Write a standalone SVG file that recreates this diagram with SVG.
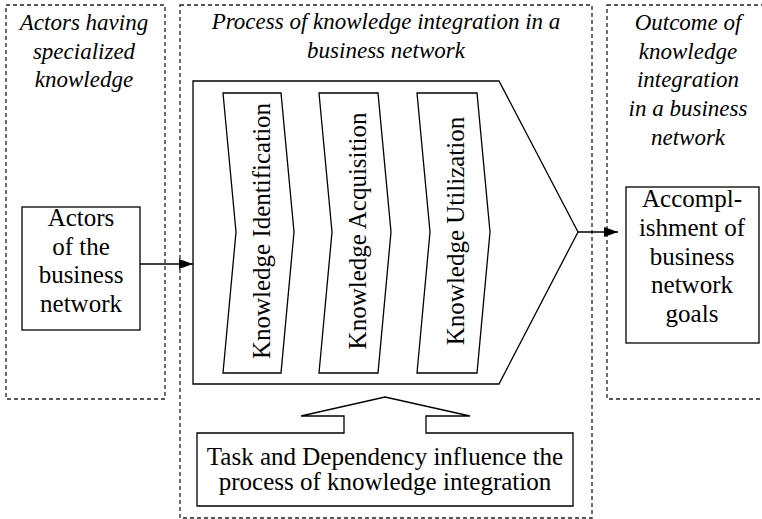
<svg xmlns="http://www.w3.org/2000/svg" width="762" height="519" viewBox="0 0 762 519">
<style>
.dash{fill:none;stroke:#222;stroke-width:1.3;stroke-dasharray:4 3}
.shape{fill:#fff;stroke:#000;stroke-width:1.3}
.hdr{font-family:"Liberation Serif",serif;font-style:italic;font-size:23px;fill:#000;text-anchor:middle}
.txt{font-family:"Liberation Serif",serif;font-size:25px;fill:#000;text-anchor:middle}
.conn{stroke:#000;stroke-width:1.3;fill:none}
</style>
<defs>
<marker id="arr" markerWidth="14" markerHeight="10" refX="14" refY="5" orient="auto" markerUnits="userSpaceOnUse">
<path d="M0,0 L14,5 L0,10 Z" fill="#000"/>
</marker>
</defs>
<rect width="762" height="519" fill="#fff"/>
<g id="lane-actors">
<rect class="dash" x="6" y="5" width="159" height="394"/>
<text class="hdr"><tspan x="84" y="30">Actors having</tspan><tspan x="84" y="58.5">specialized</tspan><tspan x="84" y="87">knowledge</tspan></text>
</g>
<g id="lane-process">
<rect class="dash" x="180" y="5" width="412" height="513"/>
<text class="hdr"><tspan x="386" y="29">Process of knowledge integration in a</tspan><tspan x="386" y="58">business network</tspan></text>
</g>
<g id="lane-outcome">
<rect class="dash" x="607" y="5" width="170" height="394"/>
<text class="hdr"><tspan x="688" y="30">Outcome of</tspan><tspan x="688" y="58.5">knowledge</tspan><tspan x="688" y="87">integration</tspan><tspan x="688" y="116">in a business</tspan><tspan x="688" y="145">network</tspan></text>
</g>
<g id="node-actors">
<rect class="shape" x="22" y="207" width="118" height="123"/>
<text class="txt"><tspan x="81" y="226">Actors</tspan><tspan x="81" y="254.5">of the</tspan><tspan x="81" y="283">business</tspan><tspan x="81" y="312">network</tspan></text>
</g>
<g id="node-process">
<polygon class="shape" points="193,81 499,81 578,232 499,384 193,384"/>
</g>
<g id="node-identification">
<polygon class="shape" points="223,93 281,93 294,232 281,373 223,373 236,232"/>
<text class="txt" transform="translate(270,231) rotate(-90)" x="0" y="0">Knowledge Identification</text>
</g>
<g id="node-acquisition">
<polygon class="shape" points="319,93 378,93 391,232 378,373 319,373 332,232"/>
<text class="txt" transform="translate(366,231) rotate(-90)" x="0" y="0">Knowledge Acquisition</text>
</g>
<g id="node-utilization">
<polygon class="shape" points="417,93 477,93 490,232 477,373 417,373 430,232"/>
<text class="txt" transform="translate(464,231) rotate(-90)" x="0" y="0">Knowledge Utilization</text>
</g>
<g id="node-outcome">
<rect class="shape" x="626" y="187" width="133" height="156"/>
<text class="txt"><tspan x="692" y="207">Accompl-</tspan><tspan x="692" y="236">ishment of</tspan><tspan x="692" y="264.5">business</tspan><tspan x="692" y="293">network</tspan><tspan x="692" y="322">goals</tspan></text>
</g>
<g id="node-task">
<polygon class="shape" points="197,433 344,433 344,416 301,416 385,397 470,416 426,416 426,433 573,433 573,506 197,506"/>
<text class="txt"><tspan x="385" y="465">Task and Dependency influence the</tspan><tspan x="385" y="490">process of knowledge integration</tspan></text>
</g>
<g id="connectors">
<line class="conn" x1="140" y1="264" x2="193" y2="264" marker-end="url(#arr)"/>
<line class="conn" x1="578" y1="232" x2="618" y2="232" marker-end="url(#arr)"/>
</g>
</svg>
